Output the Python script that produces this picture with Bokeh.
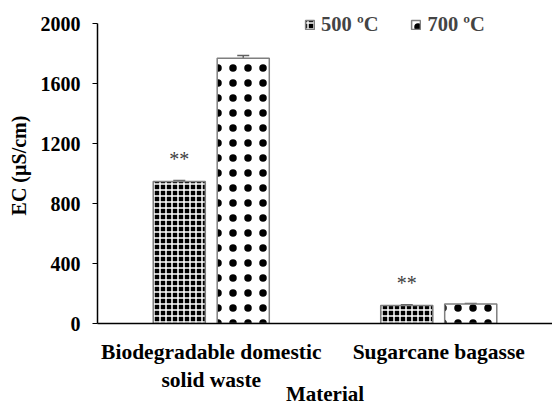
from bokeh.plotting import figure
from bokeh.models import (ColumnDataSource, FactorRange, Range1d, FixedTicker, Whisker, TeeHead,
                          Legend, LegendItem)
from bokeh.transform import dodge
from bokeh.embed import file_html
from bokeh.resources import INLINE
from bokeh.core.properties import value

materials = ["Biodegradable domestic\nsolid waste", "Sugarcane bagasse"]
ec_500 = [947, 120]
err_500 = [6, 5]
ec_700 = [1769, 130]
err_700 = [18, 4]
sig_500 = ["**", "**"]
y_ticks = [0, 400, 800, 1200, 1600, 2000]

FONT = "Liberation Serif"
GRAY = "#7f7f7f"

src = ColumnDataSource(data=dict(
    mat=materials,
    v5=ec_500, v7=ec_700,
    lo5=[v - e for v, e in zip(ec_500, err_500)],
    hi5=[v + e for v, e in zip(ec_500, err_500)],
    lo7=[v - e for v, e in zip(ec_700, err_700)],
    hi7=[v + e for v, e in zip(ec_700, err_700)],
    star_y=[v + 150 for v in ec_500],
    sig=sig_500,
))

p = figure(frame_width=455, frame_height=316, x_range=FactorRange(*materials, range_padding=0),
           y_range=Range1d(0, 2106.7), output_backend="svg", toolbar_location=None,
           min_border_left=97, min_border_right=0, min_border_top=7, min_border_bottom=80)
p.outline_line_color = None
p.grid.grid_line_color = None
p.background_fill_color = "white"
p.border_fill_color = "white"

off = 0.1406
w = 0.229
r5 = p.vbar(x=dodge("mat", -off, range=p.x_range), top="v5", width=w, source=src,
            fill_color="black", line_color=GRAY, line_width=1.5,
            hatch_pattern="cross", hatch_color="white", hatch_scale=6, hatch_weight=1.5)
r7 = p.vbar(x=dodge("mat", off, range=p.x_range), top="v7", width=w, source=src,
            fill_color="white", line_color=GRAY, line_width=1.5,
            hatch_pattern="dot", hatch_color="black", hatch_scale=15, hatch_weight=0.1)

for lo, hi, o in (("lo5", "hi5", -off), ("lo7", "hi7", off)):
    wk = Whisker(source=src, base=dodge("mat", o, range=p.x_range), lower=lo, upper=hi,
                 line_color="#606060", line_width=1.5,
                 upper_head=TeeHead(size=12, line_color="#606060", line_width=1.5),
                 lower_head=TeeHead(size=12, line_color="#606060", line_width=1.5))
    p.add_layout(wk)

p.text(x=dodge("mat", -off, range=p.x_range), y="star_y", text="sig", source=src,
       text_font=value(FONT), text_font_size="20px", text_color="#404040",
       text_align="center", text_baseline="middle")

p.yaxis.bounds = (0, 2000)
p.yaxis.ticker = FixedTicker(ticks=y_ticks)
p.yaxis.minor_tick_line_color = None
p.yaxis.major_tick_in = 0
p.yaxis.major_tick_out = 5
p.yaxis.major_label_standoff = 12
p.yaxis.axis_label = "EC (µS/cm)"
p.xaxis.axis_label = "Material"
for ax in (p.xaxis, p.yaxis):
    ax.axis_line_color = "black"
    ax.axis_line_width = 1.5
    ax.major_label_text_font = FONT
    ax.major_label_text_font_style = "bold"
    ax.major_label_text_font_size = "20px"
    ax.major_label_text_color = "black"
    ax.axis_label_text_font = FONT
    ax.axis_label_text_font_style = "bold"
    ax.axis_label_text_font_size = "20px"
    ax.axis_label_text_color = "black"
p.xaxis.major_label_text_font_size = "21.5px"
p.xaxis.axis_label_text_font_size = "21px"
p.xaxis.major_tick_line_color = None
p.xaxis.major_label_standoff = 10
p.xaxis.axis_label_standoff = -13
p.yaxis.axis_label_standoff = 8

legend = Legend(items=[LegendItem(label="500 ºC", renderers=[r5]),
                       LegendItem(label="700 ºC", renderers=[r7])],
                orientation="horizontal", location=(207, 287),
                label_text_font=FONT, label_text_font_style="bold",
                label_text_font_size="20.5px", label_height=18,
                glyph_width=11, glyph_height=11, label_standoff=6, spacing=32,
                padding=0, margin=0, border_line_color=None, background_fill_alpha=0)
p.add_layout(legend)

open("out.html", "w").write(file_html(p, INLINE))
